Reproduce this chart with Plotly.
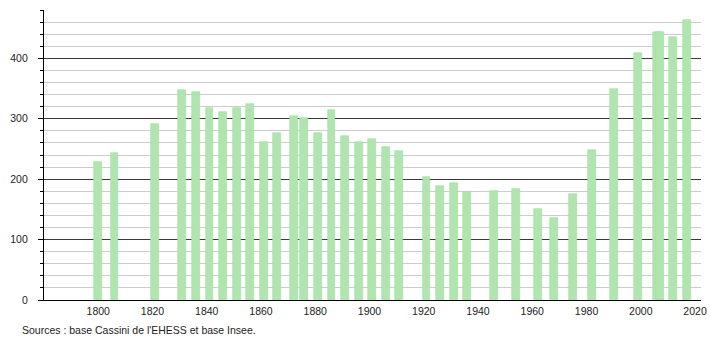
import plotly.graph_objects as go

years = [1800, 1806, 1821, 1831, 1836, 1841, 1846, 1851, 1856, 1861, 1866,
         1872, 1876, 1881, 1886, 1891, 1896, 1901, 1906, 1911, 1921, 1926,
         1931, 1936, 1946, 1954, 1962, 1968, 1975, 1982, 1990, 1999, 2006,
         2007, 2012, 2017]
population = [229, 243, 291, 348, 344, 317, 311, 317, 324, 261, 277,
              304, 301, 277, 314, 271, 261, 266, 254, 246, 204, 188,
              194, 179, 181, 183, 151, 136, 176, 249, 349, 409, 443,
              443, 436, 464]
x_ticks = [1800, 1820, 1840, 1860, 1880, 1900, 1920, 1940, 1960, 1980, 2000, 2020]
y_ticks = [0, 100, 200, 300, 400]
source_text = "Sources : base Cassini de l'EHESS et base Insee."

font_family = "Liberation Sans, Arial, sans-serif"

fig = go.Figure()
fig.add_trace(go.Bar(
    x=years, y=population, width=2.9,
    marker=dict(color="#b0e5b0", line=dict(color="#9fdb9f", width=0.6)),
    hoverinfo="x+y",
))

fig.update_layout(
    width=710, height=340,
    margin=dict(l=44, r=9, t=10, b=40, pad=0, autoexpand=False),
    paper_bgcolor="white", plot_bgcolor="white",
    showlegend=False, bargap=0,
    font=dict(family=font_family, size=10.5, color="#222"),
    xaxis=dict(
        range=[1780, 2022.2], tickmode="array", tickvals=x_ticks,
        ticktext=[str(v) for v in x_ticks],
        showgrid=False, zeroline=False, automargin=False,
        showline=True, linecolor="black", linewidth=1.3,
        ticks="", ticklabelstandoff=1,
    ),
    yaxis=dict(
        range=[0, 480], tickmode="array", tickvals=y_ticks,
        ticktext=[str(v) for v in y_ticks],
        showgrid=True, gridcolor="#3a3a3a", gridwidth=1,
        zeroline=False, automargin=False,
        showline=True, linecolor="black", linewidth=1.3,
        ticks="outside", ticklen=5, tickcolor="black", tickwidth=1,
        ticklabelstandoff=8,
        minor=dict(dtick=20, tick0=0, showgrid=True, gridcolor="#cccccc",
                   gridwidth=1, ticks="outside", ticklen=3,
                   tickcolor="black", tickwidth=1),
        layer="below traces",
    ),
    annotations=[dict(
        text=source_text, xref="paper", yref="paper",
        x=-24/657, y=-30/290, xanchor="left", yanchor="middle",
        showarrow=False, font=dict(family=font_family, size=10.5, color="#222"),
    )],
)

fig.write_html("out.html")
